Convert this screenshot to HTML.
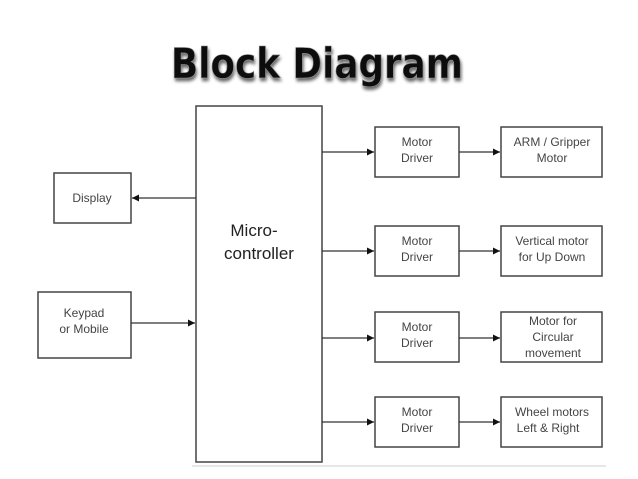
<!DOCTYPE html>
<html><head><meta charset="utf-8"><style>
html,body{margin:0;padding:0;background:#fff;width:638px;height:479px;overflow:hidden}
svg text{font-family:"Liberation Sans",Arial,sans-serif}
</style></head><body>
<svg width="638" height="479" viewBox="0 0 638 479" xmlns="http://www.w3.org/2000/svg">
<defs>
<marker id="a" markerWidth="8" markerHeight="8" refX="7" refY="4" orient="auto" markerUnits="userSpaceOnUse"><path d="M0,0.5 L7,4 L0,7.5 Z" fill="#111"/></marker>
<filter id="s" x="-10%" y="-20%" width="120%" height="150%"><feGaussianBlur in="SourceAlpha" stdDeviation="1.5"/><feOffset dx="1" dy="3"/><feComponentTransfer><feFuncA type="linear" slope="0.6"/></feComponentTransfer><feMerge><feMergeNode/><feMergeNode in="SourceGraphic"/></feMerge></filter>
</defs>
<text x="317" y="78" text-anchor="middle" font-size="42" font-weight="bold" fill="#111" stroke="#888" stroke-width="0.6" filter="url(#s)" style="font-family:'DejaVu Sans','Liberation Sans',sans-serif" textLength="292" lengthAdjust="spacingAndGlyphs">Block Diagram</text>
<g fill="#fff" stroke="#444" stroke-width="1.5">
<rect x="196" y="106" width="126" height="356"/>
<rect x="54" y="173" width="77" height="50"/>
<rect x="38" y="292" width="93" height="66"/>
<rect x="375" y="127" width="84" height="50"/>
<rect x="375" y="226" width="84" height="50"/>
<rect x="375" y="312" width="84" height="50"/>
<rect x="375" y="397" width="84" height="50"/>
<rect x="501" y="127" width="101" height="50"/>
<rect x="501" y="226" width="101" height="50"/>
<rect x="501" y="312" width="101" height="50"/>
<rect x="501" y="397" width="101" height="50"/>
</g>
<line x1="192" y1="466" x2="606" y2="466" stroke="#ccc" stroke-width="1"/>
<g stroke="#333" stroke-width="1.2" marker-end="url(#a)">
<line x1="196" y1="198" x2="132" y2="198"/>
<line x1="131" y1="323" x2="195" y2="323"/>
<line x1="322" y1="152" x2="374" y2="152"/>
<line x1="322" y1="251" x2="374" y2="251"/>
<line x1="322" y1="338" x2="374" y2="338"/>
<line x1="322" y1="422" x2="374" y2="422"/>
<line x1="459" y1="152" x2="500" y2="152"/>
<line x1="459" y1="251" x2="500" y2="251"/>
<line x1="459" y1="338" x2="500" y2="338"/>
<line x1="459" y1="422" x2="500" y2="422"/>
</g>
<g font-size="12" fill="#444" text-anchor="middle">
<text x="92" y="202">Display</text>
<text x="84" y="317">Keypad</text><text x="84" y="333">or Mobile</text>
<text x="417" y="146">Motor</text><text x="417" y="162">Driver</text>
<text x="417" y="245">Motor</text><text x="417" y="261">Driver</text>
<text x="417" y="331">Motor</text><text x="417" y="347">Driver</text>
<text x="417" y="416">Motor</text><text x="417" y="432">Driver</text>
<text x="552" y="146">ARM / Gripper</text><text x="552" y="162">Motor</text>
<text x="552" y="245">Vertical motor</text><text x="552" y="261">for Up Down</text>
<text x="553" y="325">Motor for</text><text x="553" y="341">Circular</text><text x="553" y="357">movement</text>
<text x="552" y="416">Wheel motors</text><text x="548" y="432">Left &amp; Right</text>
</g>
<g font-size="17" fill="#222" text-anchor="middle">
<text x="254" y="236">Micro-</text><text x="259" y="259">controller</text>
</g>
</svg>
</body></html>
